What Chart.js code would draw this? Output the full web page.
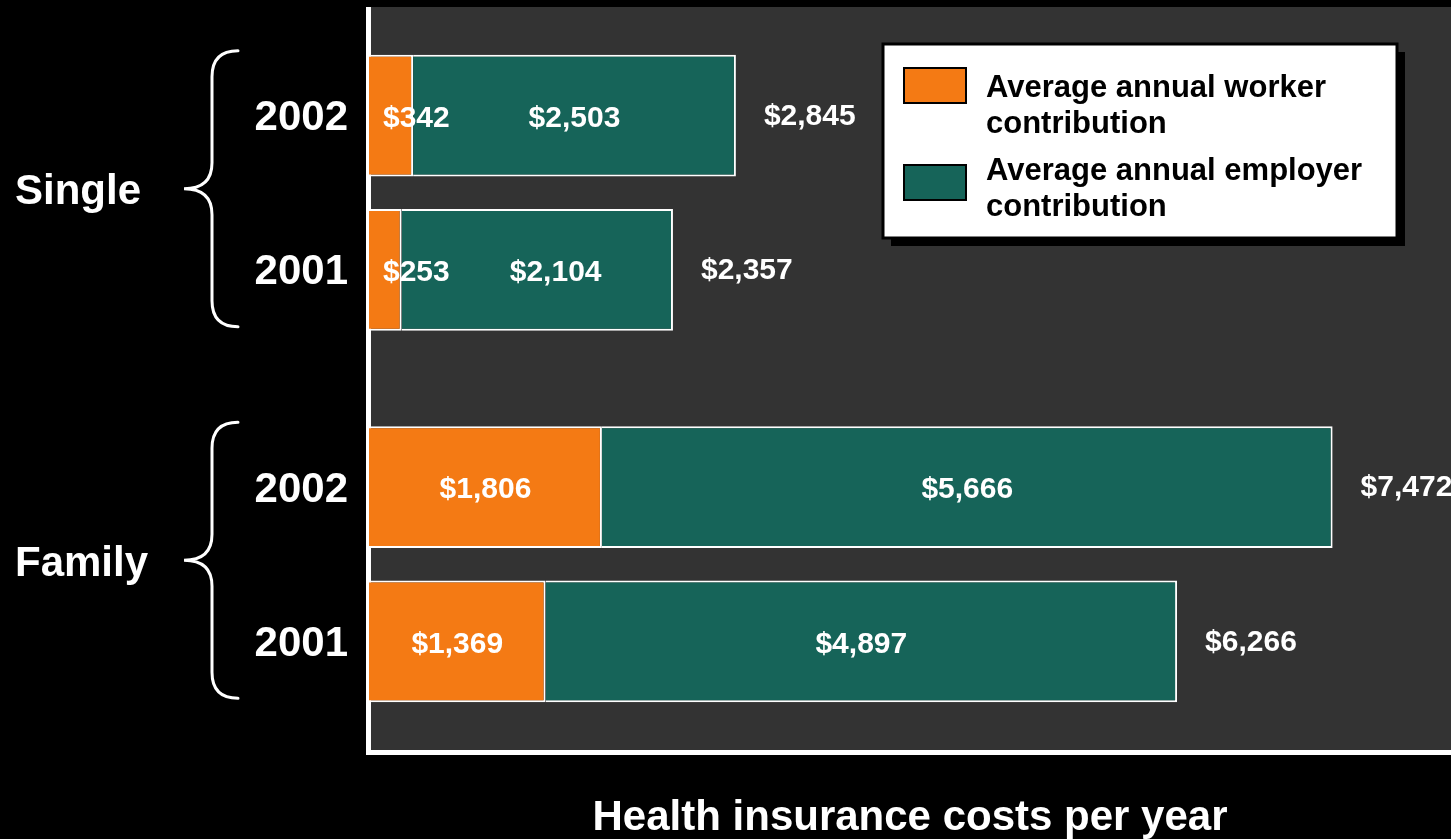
<!DOCTYPE html>
<html>
<head>
<meta charset="utf-8">
<script src="https://cdn.jsdelivr.net/npm/chart.js@4.4.1/dist/chart.umd.min.js"></script>
<style>
  html, body { margin: 0; padding: 0; background: #000; }
  #wrap { width: 1451px; height: 839px; position: relative; }
</style>
</head>
<body>
<div id="wrap"><canvas id="chart-costs"></canvas></div>
<script>
const groups = ["Single", "Family"];
const years = ["2002", "2001"];
const worker2002 = [342, 1806];
const employer2002 = [2503, 5666];
const worker2001 = [253, 1369];
const employer2001 = [2104, 4897];
const xMax = 8390;
const workerLabel = "Average annual worker contribution";
const employerLabel = "Average annual employer contribution";
const axisTitle = "Health insurance costs per year";

const ORANGE = "#f47a14";
const TEAL = "#166459";
const FONT = "'Liberation Sans', Arial, sans-serif";

function money(v) {
    return "$" + v.toLocaleString("en-US");
}

function wrap(ctx, text, maxW) {
    const words = text.split(" ");
    const lines = [];
    let cur = "";
    words.forEach((w) => {
        const test = cur ? cur + " " + w : w;
        if (cur && ctx.measureText(test).width > maxW) {
            lines.push(cur);
            cur = w;
        } else {
            cur = test;
        }
    });
    if (cur) lines.push(cur);
    return lines;
}

function brace(ctx, xTip, xSpine, xEnd, mid, half) {
    const r = 26;
    const top = mid - half, bot = mid + half;
    ctx.beginPath();
    ctx.moveTo(xEnd, top);
    ctx.quadraticCurveTo(xSpine, top, xSpine, top + r);
    ctx.lineTo(xSpine, mid - r);
    ctx.quadraticCurveTo(xSpine, mid, xTip, mid);
    ctx.quadraticCurveTo(xSpine, mid, xSpine, mid + r);
    ctx.lineTo(xSpine, bot - r);
    ctx.quadraticCurveTo(xSpine, bot, xEnd, bot);
    ctx.stroke();
}

const decor = {
    id: "decor",
    beforeDraw(chart) {
        const { ctx, chartArea: a } = chart;
        ctx.save();
        ctx.fillStyle = "#333333";
        ctx.fillRect(a.left, a.top, a.right - a.left, a.bottom - a.top);
        ctx.fillStyle = "#ffffff";
        ctx.fillRect(a.left - 3, a.top, 5, a.bottom - a.top + 5);
        ctx.fillRect(a.left - 3, a.bottom, a.right - a.left + 3, 5);
        ctx.restore();
    },
    afterDatasetsDraw(chart) {
        const { ctx, chartArea: a } = chart;
        ctx.save();
        ctx.fillStyle = "#ffffff";
        ctx.textBaseline = "middle";

        // braces around each group
        const yScale = chart.scales.y;
        ctx.strokeStyle = "#ffffff";
        ctx.lineWidth = 3;
        ctx.lineCap = "round";
        groups.forEach((g, j) => {
            const mid = yScale.getPixelForValue(j) - 4;
            brace(ctx, a.left - 185, a.left - 157, a.left - 131, mid, 138);
        });

        years.forEach((yr, k) => {
            const wMeta = chart.getDatasetMeta(k * 2);
            const eMeta = chart.getDatasetMeta(k * 2 + 1);
            groups.forEach((g, j) => {
                const w = wMeta.data[j];
                const e = eMeta.data[j];
                const wVal = chart.data.datasets[k * 2].data[j];
                const eVal = chart.data.datasets[k * 2 + 1].data[j];
                const y = w.y + 3;

                // year label
                ctx.font = "bold 42px " + FONT;
                ctx.textAlign = "right";
                ctx.fillText(yr, a.left - 21, y);

                // segment labels
                ctx.font = "bold 30px " + FONT;
                ctx.textAlign = "center";
                const wTxt = money(wVal);
                const wW = ctx.measureText(wTxt).width;
                let wx = (w.base + w.x) / 2;
                if (wW + 10 > w.x - w.base) wx = w.base + 14 + wW / 2;
                ctx.fillText(wTxt, wx, y);

                const eTxt = money(eVal);
                const eW = ctx.measureText(eTxt).width;
                let ex = (e.base + e.x) / 2;
                ex = Math.max(ex, wx + wW / 2 + 60 + eW / 2);
                ctx.fillText(eTxt, ex, y);

                // total
                ctx.textAlign = "left";
                ctx.fillText(money(wVal + eVal), e.x + 28, y - 2);
            });
        });
        ctx.restore();
    },
    afterDraw(chart) {
        const { ctx, chartArea: a } = chart;
        const boxW = 514, boxH = 194;
        const bx = a.right - 54 - boxW;
        const by = a.top + 37;
        ctx.save();
        ctx.fillStyle = "#000000";
        ctx.fillRect(bx + 8, by + 8, boxW, boxH);
        ctx.fillStyle = "#ffffff";
        ctx.fillRect(bx, by, boxW, boxH);
        ctx.strokeStyle = "#000000";
        ctx.lineWidth = 3;
        ctx.strokeRect(bx, by, boxW, boxH);

        const seen = [];
        chart.data.datasets.forEach((ds) => {
            if (!seen.find((s) => s.label === ds.label)) seen.push(ds);
        });
        ctx.font = "bold 31px " + FONT;
        ctx.textBaseline = "middle";
        ctx.textAlign = "left";
        seen.forEach((ds, i) => {
            const ly = by + 44 + i * 83;
            const sy = ly - 20 + i * 14;
            ctx.fillStyle = ds.backgroundColor;
            ctx.fillRect(bx + 21, sy, 62, 35);
            ctx.lineWidth = 2;
            ctx.strokeRect(bx + 21, sy, 62, 35);
            ctx.fillStyle = "#000000";
            wrap(ctx, ds.label, 395).forEach((line, n) => {
                ctx.fillText(line, bx + 103, ly + n * 36);
            });
        });
        ctx.restore();
    },
};

const chartCosts = document.getElementById("chart-costs");
new Chart(chartCosts, {
    type: "bar",
    data: {
        labels: groups,
        datasets: [
            { label: workerLabel, data: worker2002, stack: years[0], backgroundColor: ORANGE },
            { label: employerLabel, data: employer2002, stack: years[0], backgroundColor: TEAL },
            { label: workerLabel, data: worker2001, stack: years[1], backgroundColor: ORANGE },
            { label: employerLabel, data: employer2001, stack: years[1], backgroundColor: TEAL },
        ],
    },
    options: {
        indexAxis: "y",
        responsive: true,
        maintainAspectRatio: false,
        animation: false,
        layout: { padding: { left: 15, top: 7, right: 0, bottom: 0 } },
        datasets: {
            bar: {
                borderColor: "#ffffff",
                borderWidth: 2,
                borderSkipped: "start",
                categoryPercentage: 0.83,
                barPercentage: 0.79,
            },
        },
        plugins: {
            legend: { display: false },
            tooltip: { enabled: false },
        },
        scales: {
            x: {
                stacked: true,
                min: 0,
                max: xMax,
                grid: { display: false },
                border: { display: false },
                ticks: { display: false },
                title: {
                    display: true,
                    text: axisTitle,
                    color: "#ffffff",
                    font: { family: FONT, size: 42, weight: "bold", lineHeight: 0.96 },
                    padding: { top: 0, bottom: 0 },
                },
                afterFit(scale) {
                    scale.height = 89;
                    scale.paddingLeft = 0;
                    scale.paddingRight = 0;
                },
            },
            y: {
                stacked: true,
                grid: { display: false },
                border: { display: false },
                ticks: {
                    color: "#ffffff",
                    crossAlign: "far",
                    padding: 0,
                    font: { family: FONT, size: 42, weight: "bold" },
                },
                afterFit(scale) {
                    scale.width = 354;
                    scale.paddingTop = 0;
                    scale.paddingBottom = 0;
                },
            },
        },
    },
    plugins: [decor],
});
</script>
</body>
</html>
